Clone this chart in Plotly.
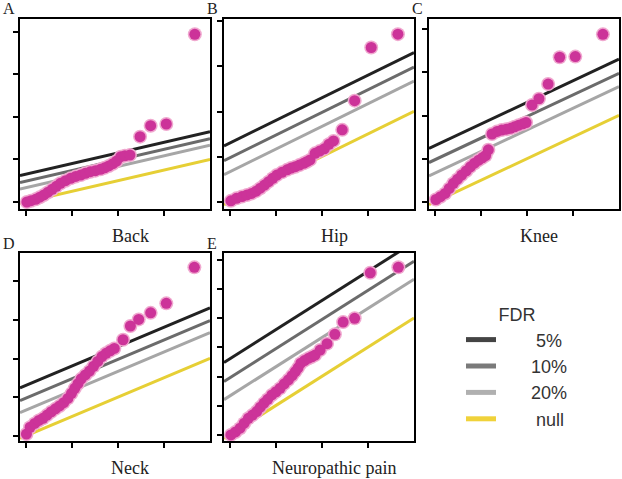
import plotly.graph_objects as go

W, H = 622, 479

# ---------------- data ----------------
panel_names = ["Back", "Hip", "Knee", "Neck", "Neuropathic pain"]
panel_letters = ["A", "B", "C", "D", "E"]

back_x = [0.03, 0.12, 0.22, 0.31, 0.40, 0.49, 0.58, 0.67, 0.76, 0.87, 0.98, 1.09, 1.20, 1.30,
          1.41, 1.52, 1.63, 1.72, 1.81, 1.90, 1.98, 2.07, 2.16, 2.27, 2.49, 2.72, 3.06, 3.68]
back_y = [0.00, 0.12, 0.25, 0.45, 0.66, 0.92, 1.19, 1.47, 1.76, 2.00, 2.23, 2.40, 2.54, 2.70,
          2.85, 2.95, 3.07, 3.22, 3.39, 3.60, 3.85, 4.26, 4.35, 4.42, 6.15, 7.18, 7.34, 15.78]

hip_x = [0.03, 0.15, 0.27, 0.38, 0.48, 0.58, 0.67, 0.76, 0.85, 0.94, 1.03, 1.14, 1.25, 1.34,
         1.43, 1.52, 1.61, 1.68, 1.75, 1.86, 1.96, 2.06, 2.16, 2.26, 2.45, 2.72, 3.08, 3.66]
hip_y = [0.05, 0.16, 0.24, 0.31, 0.38, 0.48, 0.61, 0.75, 0.90, 1.05, 1.19, 1.31, 1.42, 1.50,
         1.56, 1.63, 1.71, 1.78, 1.86, 2.15, 2.25, 2.35, 2.55, 2.70, 3.19, 4.48, 6.83, 7.42]

knee_x = [0.03, 0.13, 0.23, 0.32, 0.41, 0.50, 0.59, 0.69, 0.78, 0.87, 0.96, 1.04, 1.11, 1.17,
          1.25, 1.36, 1.46, 1.56, 1.65, 1.74, 1.83, 1.92, 1.99, 2.12, 2.27, 2.47, 2.72, 3.06, 3.66]
knee_y = [0.12, 0.25, 0.40, 0.63, 0.87, 1.06, 1.25, 1.44, 1.63, 1.80, 1.94, 2.05, 2.15, 2.42,
          3.15, 3.27, 3.33, 3.37, 3.41, 3.48, 3.56, 3.62, 3.68, 4.49, 4.78, 5.46, 6.70, 6.73, 7.76]

neck_x = [0.02, 0.10, 0.20, 0.29, 0.38, 0.47, 0.56, 0.65, 0.74, 0.83, 0.92, 1.00, 1.07, 1.14,
          1.21, 1.30, 1.39, 1.48, 1.57, 1.66, 1.75, 1.84, 1.93, 2.12, 2.28, 2.46, 2.72, 3.06, 3.67]
neck_y = [0.10, 0.45, 0.65, 0.80, 0.91, 1.08, 1.25, 1.40, 1.55, 1.72, 1.94, 2.20, 2.46, 2.70,
          2.95, 3.15, 3.35, 3.60, 3.85, 4.10, 4.27, 4.40, 4.52, 4.97, 5.68, 6.02, 6.36, 6.85, 8.71]

neuro_x = [0.03, 0.13, 0.23, 0.32, 0.41, 0.50, 0.59, 0.67, 0.75, 0.83, 0.92, 1.01, 1.10, 1.19,
           1.28, 1.36, 1.43, 1.49, 1.55, 1.63, 1.72, 1.79, 1.86, 1.97, 2.12, 2.29, 2.47, 2.72, 3.06, 3.67]
neuro_y = [0.00, 0.10, 0.23, 0.40, 0.57, 0.68, 0.80, 0.95, 1.09, 1.22, 1.37, 1.48, 1.60, 1.75,
           1.89, 2.03, 2.17, 2.30, 2.46, 2.55, 2.63, 2.68, 2.74, 2.91, 3.13, 3.45, 3.87, 4.00, 5.56, 5.75]

xs = [back_x, hip_x, knee_x, neck_x, neuro_x]
ys = [back_y, hip_y, knee_y, neck_y, neuro_y]

# FDR threshold lines: y = x + offset (null: offset 0)
fdr_labels = ["5%", "10%", "20%", "null"]
fdr_offsets = [2.6, 1.95, 1.33, 0.0]

x_ticks = [0, 1, 2, 3]
y_ticks = [[0, 4, 8, 12, 16], [0, 2, 4, 6, 8], [0, 2, 4, 6, 8], [0, 2, 4, 6, 8], [0, 1, 2, 3, 4, 5, 6]]
y_ranges = [[-0.66, 17.22], [-0.31, 8.09], [-0.32, 8.47], [-0.26, 9.45], [-0.21, 6.24]]
x_range = [-0.12, 4.01]

# ---------------- styling ----------------
line_colors = ["#222222", "#6b6b6b", "#a6a6a6", "#e6cf35"]
legend_colors = ["#444444", "#7a7a7a", "#b0b0b0", "#f0d23a"]
point_color = "#cc3399"
point_edge = "#f0a8cf"

# panel boxes in pixels (left, right, top, bottom)
boxes = [(20, 210, 19, 209), (224, 414, 19, 209), (429, 619, 19, 209),
         (20, 210, 253, 441), (224, 414, 253, 441)]

fig = go.Figure()
layout = {}
annotations = []
serif = "Liberation Serif"

for i in range(5):
    l, r, t, b = boxes[i]
    n = "" if i == 0 else str(i + 1)
    xa, ya = "x" + n, "y" + n
    layout["xaxis" + n] = dict(domain=[l / W, r / W], range=x_range, anchor=ya,
                               tickvals=x_ticks, showticklabels=False, ticks="outside",
                               ticklen=5, tickwidth=1.5, tickcolor="black",
                               showline=True, linecolor="black", linewidth=2, mirror=True,
                               showgrid=False, zeroline=False, fixedrange=True)
    layout["yaxis" + n] = dict(domain=[1 - b / H, 1 - t / H], range=y_ranges[i], anchor=xa,
                               tickvals=y_ticks[i], showticklabels=False, ticks="outside",
                               ticklen=5, tickwidth=1.5, tickcolor="black",
                               showline=True, linecolor="black", linewidth=2, mirror=True,
                               showgrid=False, zeroline=False, fixedrange=True)
    # threshold lines across the full x range
    for k in range(len(fdr_labels) - 1, -1, -1):
        fig.add_trace(go.Scatter(
            x=x_range, y=[x_range[0] + fdr_offsets[k], x_range[1] + fdr_offsets[k]],
            mode="lines", line=dict(color=line_colors[k], width=3),
            xaxis=xa, yaxis=ya, showlegend=False, hoverinfo="skip"))
    # observed points: pink halo underneath, magenta body on top
    fig.add_trace(go.Scatter(
        x=xs[i], y=ys[i], mode="markers",
        marker=dict(size=14, color=point_edge, line=dict(width=0)),
        xaxis=xa, yaxis=ya, showlegend=False, cliponaxis=False, hoverinfo="skip"))
    fig.add_trace(go.Scatter(
        x=xs[i], y=ys[i], mode="markers",
        marker=dict(size=11, color=point_color, line=dict(width=0)),
        xaxis=xa, yaxis=ya, showlegend=False, cliponaxis=False))
    # panel title below
    annotations.append(dict(text=panel_names[i], x=((l + r) / 2 + 15) / W,
                            y=1 - (b + 27) / H, xref="paper", yref="paper",
                            xanchor="center", yanchor="middle", showarrow=False,
                            font=dict(family=serif, size=18, color="#222222")))
    # panel letter
    annotations.append(dict(text=panel_letters[i], x=(l - 19) / W, y=1 - (t - 10) / H,
                            xref="paper", yref="paper", xanchor="left", yanchor="middle",
                            showarrow=False, font=dict(family=serif, size=16, color="#222222")))

# legend entries
pad = {"5%": 7, "10%": 6, "20%": 6, "null": 7}
for k, lab in enumerate(fdr_labels):
    fig.add_trace(go.Scatter(x=[None], y=[None], mode="lines", name="\u00a0" * pad[lab] + lab,
                             line=dict(color=legend_colors[k], width=5),
                             xaxis="x", yaxis="y", showlegend=True))

fig.update_layout(
    width=W, height=H, margin=dict(l=0, r=0, t=0, b=0),
    paper_bgcolor="white", plot_bgcolor="white",
    annotations=annotations,
    legend=dict(x=461 / W, y=1 - 298 / H, xanchor="left", yanchor="top",
                title=dict(text="FDR", side="top center",
                           font=dict(family="Liberation Sans", size=18, color="#333333")),
                font=dict(family="Liberation Sans", size=18, color="#333333"),
                bgcolor="rgba(0,0,0,0)", borderwidth=0, tracegroupgap=0),
    **layout)

fig.write_html("out.html", config={"displayModeBar": False},
               post_script="document.body.style.margin='0';document.body.style.overflow='hidden';")
